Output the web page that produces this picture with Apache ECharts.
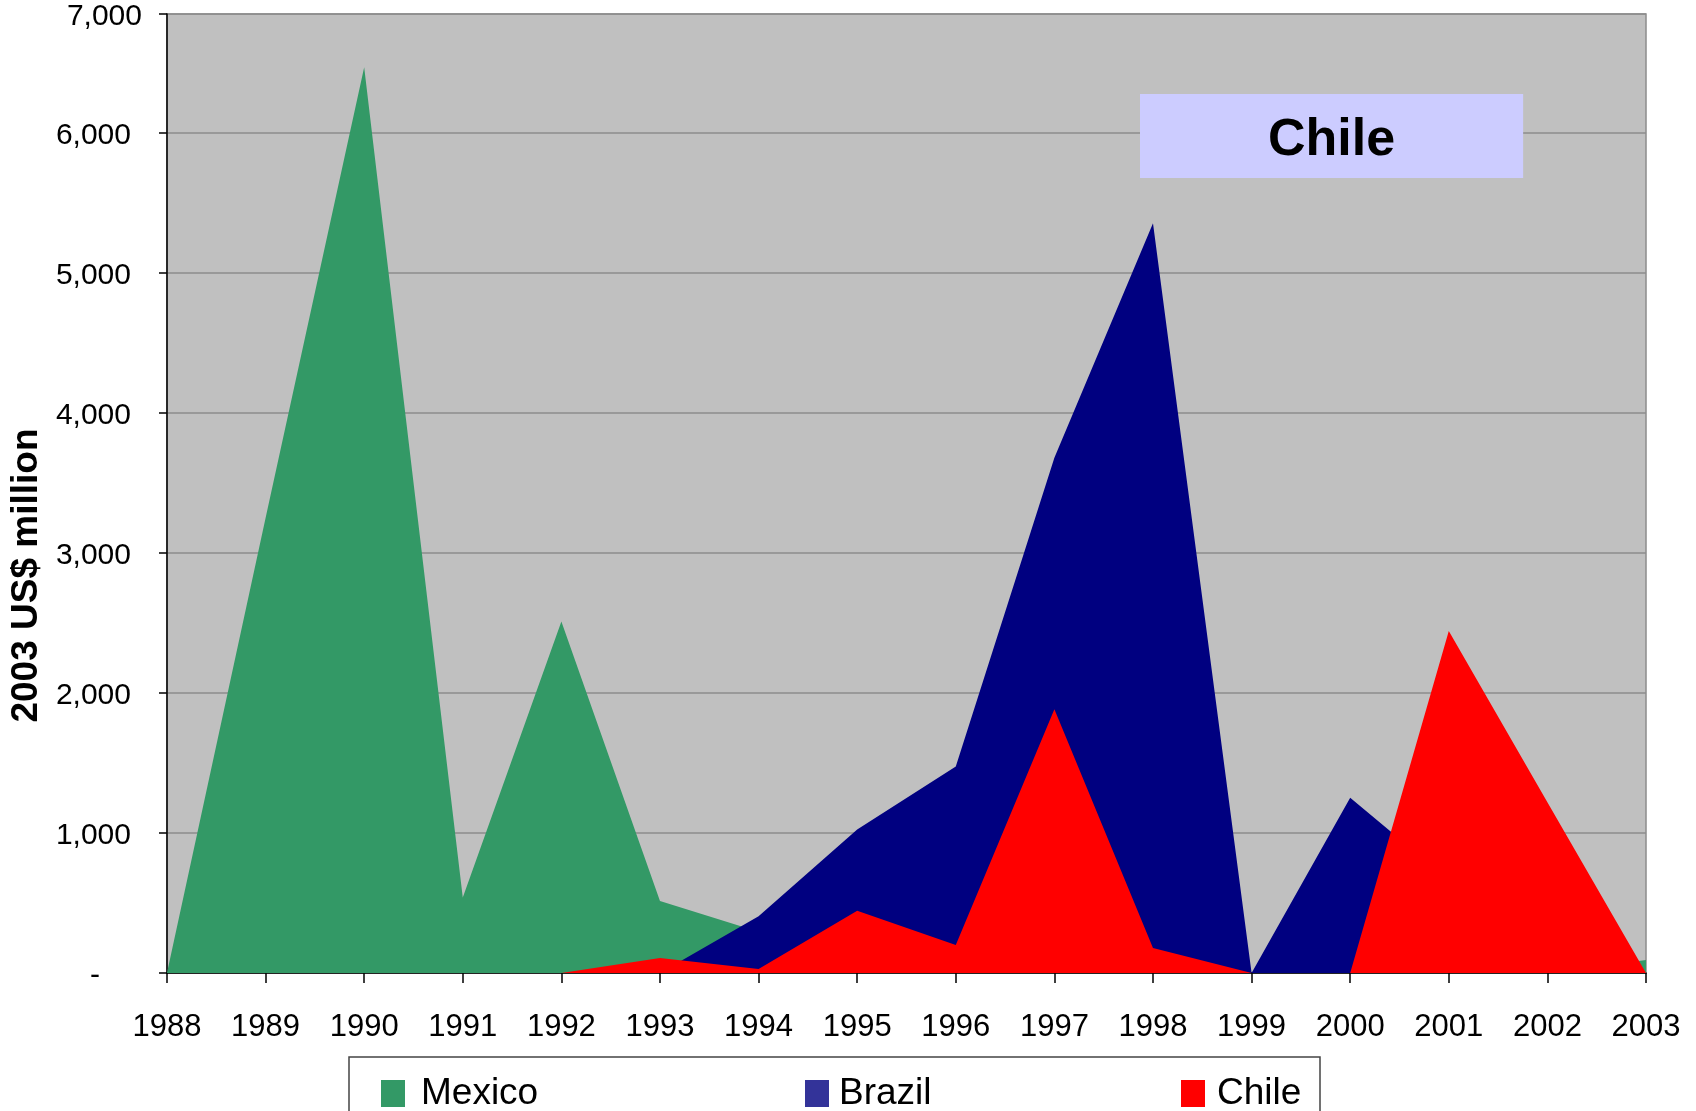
<!DOCTYPE html>
<html>
<head>
<meta charset="utf-8">
<title>Chile</title>
<script src="https://cdn.jsdelivr.net/npm/echarts@6/dist/echarts.min.js"></script>
<style>
  html, body { margin: 0; padding: 0; background: #ffffff; }
  #chart { width: 1696px; height: 1111px; }
</style>
</head>
<body>
<div id="chart"></div>
<script>
// Annual values, 2003 US$ million
const years = ['1988', '1989', '1990', '1991', '1992', '1993', '1994', '1995',
               '1996', '1997', '1998', '1999', '2000', '2001', '2002', '2003'];
const mexico = [0, 3250, 6470, 540, 2510, 515, 295, 0, 0, 0, 0, 0, 0, 0, 0, 93];
const brazil = [0, 0, 0, 0, 0, 0, 405, 1025, 1475, 3680, 5355, 0, 1252, 665, 0, 0];
const chile  = [0, 0, 0, 0, 0, 107, 29, 445, 200, 1884, 179, 0, 0, 2443, 1220, 0];

const seriesNames = ['Mexico', 'Brazil', 'Chile'];
const seriesColors = ['#339966', '#000080', '#ff0000'];
const legendColors = ['#339966', '#333399', '#ff0000'];
const seriesData = [mexico, brazil, chile];

const Y_TOP = 6850;      // upper edge of the plot area
const Y_TOP_LABEL = '7,000';

const FONT = "'Liberation Sans', Arial, sans-serif";

const chart = echarts.init(document.getElementById('chart'), null, { renderer: 'canvas' });

function yLabel(v) {
  if (v === 0) return '{dash|-}';
  if (v >= Y_TOP) return '{top|' + Y_TOP_LABEL + '}';
  return '{n|' + v.toLocaleString('en-US') + '}';
}

const legendLefts = [381, 805, 1181];
const legendTextPad = [16, 10, 12];

const option = {
  animation: false,
  backgroundColor: '#ffffff',
  textStyle: { fontFamily: FONT },
  title: {
    text: 'Chile',
    left: 1140,
    top: 94,
    backgroundColor: '#ccccff',
    padding: [21, 128, 11, 128],
    textStyle: {
      fontFamily: FONT,
      fontSize: 52,
      fontWeight: 'bold',
      color: '#000000',
      lineHeight: 52,
      textShadowColor: '#ffffff',
      textShadowOffsetX: 2,
      textShadowOffsetY: 2,
      textShadowBlur: 0
    }
  },
  legend: seriesNames.map((name, i) => ({
    data: [{ name: name, itemStyle: { color: legendColors[i] } }],
    left: legendLefts[i],
    top: 1075,
    padding: 0,
    icon: 'rect',
    itemWidth: 24,
    itemHeight: 27,
    selectedMode: false,
    textStyle: {
      fontFamily: FONT,
      fontSize: 37,
      color: '#000000',
      padding: [0, 0, 0, legendTextPad[i] - 5]
    }
  })),
  graphic: [{
    type: 'rect',
    shape: { x: 349, y: 1057, width: 971, height: 90 },
    style: { fill: 'none', stroke: '#444444', lineWidth: 1.5 },
    silent: true,
    z: 0
  }],
  grid: {
    left: 165,
    right: 50,
    top: 14,
    bottom: 138,
    show: true,
    backgroundColor: '#c0c0c0',
    borderColor: '#8c8c8c',
    borderWidth: 1.5
  },
  xAxis: {
    type: 'category',
    data: years,
    boundaryGap: false,
    axisLine: { show: true, lineStyle: { color: '#000000', width: 1.5 } },
    axisTick: { show: true, interval: 0, length: 10, lineStyle: { color: '#000000', width: 1.5 } },
    axisLabel: {
      interval: 0,
      margin: 39,
      fontFamily: FONT,
      fontSize: 31,
      color: '#000000'
    },
    splitLine: { show: false }
  },
  yAxis: {
    type: 'value',
    min: 0,
    max: Y_TOP,
    interval: 1000,
    name: '2003 US$ million',
    nameLocation: 'middle',
    nameRotate: 90,
    nameGap: 118,
    nameTextStyle: {
      fontFamily: FONT,
      fontSize: 37,
      fontWeight: 'bold',
      color: '#000000',
      padding: [0, 164, 0, 0]
    },
    axisLine: { show: true, lineStyle: { color: '#000000', width: 1.5 } },
    axisTick: { show: true, length: 8, lineStyle: { color: '#000000', width: 1.5 } },
    axisLabel: {
      margin: 25,
      formatter: yLabel,
      rich: {
        n:    { fontFamily: FONT, fontSize: 30, color: '#000000', padding: [6, 11, 0, 0] },
        top:  { fontFamily: FONT, fontSize: 30, color: '#000000', padding: [6, 0, 0, 0] },
        dash: { fontFamily: FONT, fontSize: 30, color: '#000000', padding: [6, 42, 0, 0] }
      }
    },
    splitLine: { show: true, lineStyle: { color: '#8c8c8c', width: 1.5 } }
  },
  series: seriesNames.map((name, i) => ({
    name: name,
    type: 'line',
    data: seriesData[i],
    showSymbol: false,
    symbol: 'none',
    smooth: false,
    lineStyle: { width: 0, color: seriesColors[i] },
    itemStyle: { color: seriesColors[i] },
    areaStyle: { color: seriesColors[i], opacity: 1 },
    z: 2 + i
  }))
};

chart.setOption(option);
</script>
</body>
</html>
